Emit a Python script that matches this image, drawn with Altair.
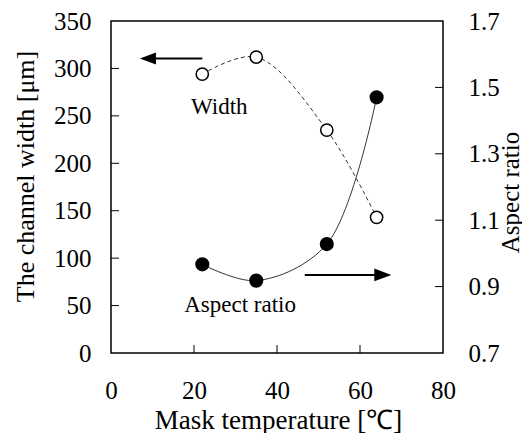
import altair as alt
import pandas as pd

# ---- data ----
temp = [22, 35, 52, 64]                    # Mask temperature [°C]
width_um = [294, 312, 235, 143]            # channel width [µm]  (open circles, left axis)
aspect = [0.967, 0.918, 1.028, 1.470]      # aspect ratio        (filled circles, right axis)

left_ticks = [0, 50, 100, 150, 200, 250, 300, 350]
right_ticks = [0.7, 0.9, 1.1, 1.3, 1.5, 1.7]
x_ticks = [0, 20, 40, 60, 80]

# inner tick marks (drawn inside the frame)
left_inner = [50, 100, 150, 200, 250, 300]
right_inner = [0.9, 1.1, 1.3, 1.5]
x_inner = [20, 40, 60]

# annotations (data coordinates)
w_arrow_tail_x, w_arrow_head_x, w_arrow_y = 22.0, 8.9, 310.5
a_arrow_tail_x, a_arrow_head_x, a_arrow_y = 46.7, 65.5, 0.935
w_label = ("Width", 26.1, 259)
a_label = ("Aspect ratio", 31.1, 0.845)

FONT = "Liberation Serif"
W, H = 332, 332

df = pd.DataFrame({"t": temp, "w": width_um, "a": aspect})

common = dict(labelFont=FONT, titleFont=FONT, labelFontSize=25, labelColor="black",
              titleColor="black", titleFontWeight="normal", labelFlush=False)

xscale = alt.Scale(domain=[0, 80], nice=False)
X = alt.X("t:Q", scale=xscale,
          axis=alt.Axis(values=x_ticks, title="Mask temperature [℃]",
                        labelPadding=25, titleFontSize=27,
                        titleX=167, titleY=75, titleBaseline="alphabetic",
                        titleAlign="center", **common))

wscale = alt.Scale(domain=[0, 350], nice=False)
ascale = alt.Scale(domain=[0.7, 1.7], nice=False)

Yw = alt.Y("w:Q", scale=wscale,
           axis=alt.Axis(values=left_ticks, title="The channel width [μm]",
                         labelPadding=20, format="d", titleFontSize=26,
                         titleX=-86, titleY=155, titleAngle=-90,
                         titleBaseline="middle", titleAlign="center", **common))
Ya = alt.Y("a:Q", scale=ascale,
           axis=alt.Axis(values=right_ticks, title="Aspect ratio", orient="right",
                         labelPadding=25, format=".1f", titleFontSize=25,
                         titleX=67, titleY=171, titleAngle=-90,
                         titleBaseline="middle", titleAlign="center", **common))

# ---- width group (left axis) ----
w_line = alt.Chart(df).mark_line(interpolate="catmull-rom", color="black",
                                 strokeWidth=0.8, strokeDash=[4, 3]).encode(x=X, y=Yw)
w_pts = alt.Chart(df).mark_point(shape="circle", filled=True, fill="white",
                                 stroke="black", strokeWidth=1.5, size=150,
                                 opacity=1).encode(x=X, y=Yw)
w_arrow_df = pd.DataFrame({"t": [w_arrow_tail_x], "t2": [w_arrow_head_x], "w": [w_arrow_y]})
w_arrow = alt.Chart(w_arrow_df).mark_rule(color="black", strokeWidth=2).encode(
    x=X, x2="t2:Q", y=Yw)
w_head = alt.Chart(pd.DataFrame({"t": [w_arrow_head_x], "w": [w_arrow_y]})).mark_point(
    shape="M-1,0L1,-0.75L1,0.75Z", filled=True, color="black", size=256, opacity=1
).encode(x=X, y=Yw)
w_text = alt.Chart(pd.DataFrame({"t": [w_label[1]], "w": [w_label[2]], "s": [w_label[0]]})).mark_text(
    font=FONT, fontSize=23, color="black", baseline="middle", align="center"
).encode(x=X, y=Yw, text="s:N")
left_tk = alt.Chart(pd.DataFrame({"w": left_inner})).mark_rule(color="black", strokeWidth=1).encode(
    y=Yw, x=alt.value(0), x2=alt.value(8))
bottom_tk = alt.Chart(pd.DataFrame({"t": x_inner})).mark_rule(color="black", strokeWidth=1).encode(
    x=X, y=alt.value(H), y2=alt.value(H - 8))

width_group = alt.layer(w_line, w_pts, w_arrow, w_head, w_text, left_tk, bottom_tk)

# ---- aspect group (right axis) ----
a_line = alt.Chart(df).mark_line(interpolate="catmull-rom", color="black",
                                 strokeWidth=0.8).encode(x=X, y=Ya)
a_pts = alt.Chart(df).mark_circle(color="black", size=200, opacity=1).encode(x=X, y=Ya)
a_arrow_df = pd.DataFrame({"t": [a_arrow_tail_x], "t2": [a_arrow_head_x], "a": [a_arrow_y]})
a_arrow = alt.Chart(a_arrow_df).mark_rule(color="black", strokeWidth=2).encode(
    x=X, x2="t2:Q", y=Ya)
a_head = alt.Chart(pd.DataFrame({"t": [a_arrow_head_x], "a": [a_arrow_y]})).mark_point(
    shape="M1,0L-1,-0.75L-1,0.75Z", filled=True, color="black", size=289, opacity=1
).encode(x=X, y=Ya)
a_text = alt.Chart(pd.DataFrame({"t": [a_label[1]], "a": [a_label[2]], "s": [a_label[0]]})).mark_text(
    font=FONT, fontSize=23, color="black", baseline="middle", align="center"
).encode(x=X, y=Ya, text="s:N")
right_tk = alt.Chart(pd.DataFrame({"a": right_inner})).mark_rule(color="black", strokeWidth=1).encode(
    y=Ya, x=alt.value(W), x2=alt.value(W - 8))

aspect_group = alt.layer(a_line, a_pts, a_arrow, a_head, a_text, right_tk)

chart = alt.layer(width_group, aspect_group).resolve_scale(y="independent").properties(
    width=W, height=H,
    background="white",
    autosize=alt.AutoSizeParams(type="none"),
    padding={"left": 103, "top": 13, "right": 79, "bottom": 80},
).configure_view(
    stroke="black", strokeWidth=1.5
).configure_axis(
    labelFont=FONT, labelFontSize=25, labelColor="black", labelOverlap=False,
    titleFont=FONT, titleFontSize=26, titleFontWeight="normal", titleColor="black",
    grid=False, ticks=False, domain=False, tickSize=0,
)

chart.save("out.html", embed_options={"renderer": "svg", "actions": False})
